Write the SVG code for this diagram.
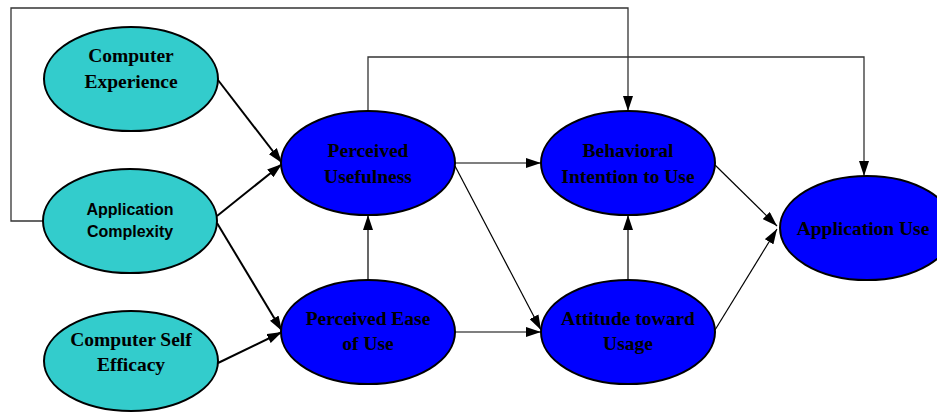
<svg xmlns="http://www.w3.org/2000/svg" width="937" height="412" viewBox="0 0 937 412">
<style>
.teal{fill:#33CCCC;stroke:#000;stroke-width:2}
.blue{fill:#0000FF;stroke:#000;stroke-width:2}
.t{font-family:"Liberation Serif","Times New Roman",serif;font-weight:bold;font-size:19.5px;fill:#000;text-anchor:middle}
.s{font-family:"Liberation Sans",Arial,sans-serif;font-weight:bold;font-size:16px;fill:#000;text-anchor:middle}
.c{fill:none;stroke:#000;stroke-width:1.2}
.k{fill:none;stroke:#000;stroke-width:2}
.g{fill:none;stroke:#333;stroke-width:1.3}
</style>
<defs>
<marker id="ah" markerUnits="userSpaceOnUse" markerWidth="15" markerHeight="10" refX="15" refY="5" orient="auto">
<path d="M0,0 L15,5 L0,10 z" fill="#000"/>
</marker>
</defs>
<rect width="937" height="412" fill="#fff"/>
<g id="connectors">
<polyline class="g" points="43,221 11,221 11,8 628,8 628,111" marker-end="url(#ah)"/>
<polyline class="g" points="368,111 368,57 864,57 864,176" marker-end="url(#ah)"/>
<line class="k" x1="218" y1="80" x2="282" y2="163" marker-end="url(#ah)"/>
<line class="k" x1="217" y1="216" x2="282" y2="164" marker-end="url(#ah)"/>
<line class="k" x1="217" y1="223" x2="282" y2="331" marker-end="url(#ah)"/>
<line class="k" x1="218" y1="363" x2="282" y2="332" marker-end="url(#ah)"/>
<line class="c" x1="368" y1="280" x2="368" y2="215" marker-end="url(#ah)"/>
<line class="c" x1="455" y1="163" x2="541" y2="163" marker-end="url(#ah)"/>
<line class="c" x1="455" y1="166" x2="541" y2="330" marker-end="url(#ah)"/>
<line class="c" x1="455" y1="332" x2="541" y2="332" marker-end="url(#ah)"/>
<line class="c" x1="628" y1="280" x2="628" y2="215" marker-end="url(#ah)"/>
<line class="c" x1="715" y1="165" x2="777" y2="226" marker-end="url(#ah)"/>
<line class="c" x1="715" y1="330" x2="777" y2="229" marker-end="url(#ah)"/>
</g>
<g id="computer-experience">
<ellipse class="teal" cx="131" cy="79" rx="87" ry="52"/>
<text class="t" x="131" y="62">Computer</text>
<text class="t" x="131" y="88">Experience</text>
</g>
<g id="application-complexity">
<ellipse class="teal" cx="130" cy="221" rx="87" ry="52"/>
<text class="s" x="130" y="215">Application</text>
<text class="s" x="130" y="237">Complexity</text>
</g>
<g id="computer-self-efficacy">
<ellipse class="teal" cx="131" cy="361" rx="87" ry="50"/>
<text class="t" x="131" y="346">Computer Self</text>
<text class="t" x="131" y="371">Efficacy</text>
</g>
<g id="perceived-usefulness">
<ellipse class="blue" cx="368" cy="163" rx="87" ry="52"/>
<text class="t" x="368" y="157">Perceived</text>
<text class="t" x="368" y="183">Usefulness</text>
</g>
<g id="perceived-ease-of-use">
<ellipse class="blue" cx="368" cy="332" rx="87" ry="52"/>
<text class="t" x="368" y="325">Perceived Ease</text>
<text class="t" x="368" y="350">of Use</text>
</g>
<g id="behavioral-intention">
<ellipse class="blue" cx="628" cy="163" rx="87" ry="52"/>
<text class="t" x="628" y="157">Behavioral</text>
<text class="t" x="628" y="183">Intention to Use</text>
</g>
<g id="attitude-toward-usage">
<ellipse class="blue" cx="628" cy="332" rx="87" ry="52"/>
<text class="t" x="628" y="325">Attitude toward</text>
<text class="t" x="628" y="350">Usage</text>
</g>
<g id="application-use">
<ellipse class="blue" cx="867" cy="228" rx="87" ry="52"/>
<text class="t" x="863" y="235">Application Use</text>
</g>
</svg>
